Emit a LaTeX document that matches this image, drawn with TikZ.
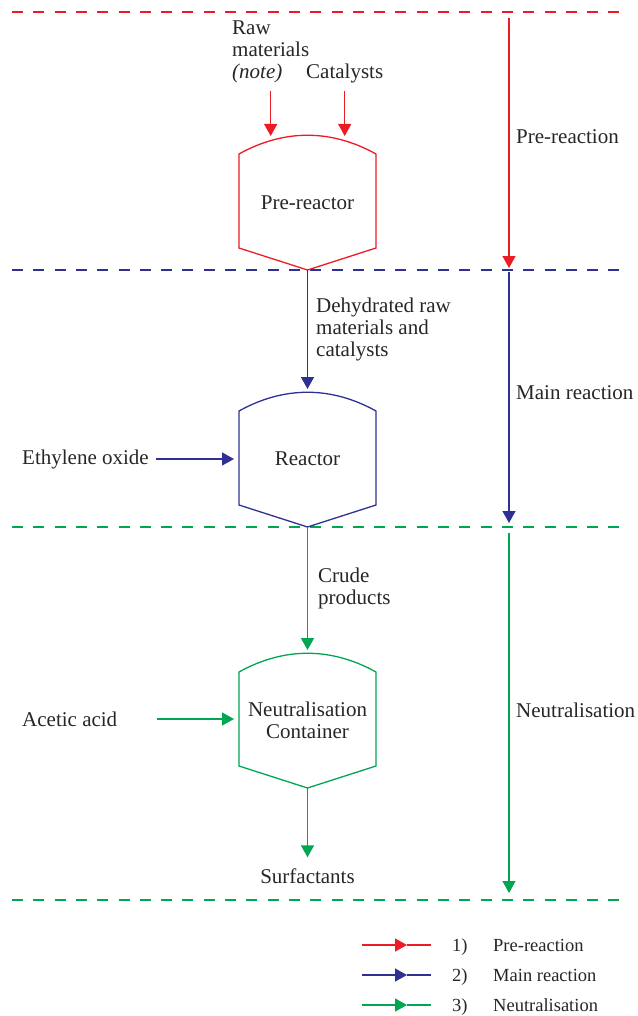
\documentclass[tikz,border=0pt]{standalone}
\usepackage{fontspec}
\setmainfont{Liberation Serif}
\usetikzlibrary{arrows.meta}

\definecolor{prered}{RGB}{237,28,36}
\definecolor{mainblue}{RGB}{46,49,146}
\definecolor{neutgreen}{RGB}{0,166,81}

\tikzset{
  flow/.style={line width=1.4pt,-{Triangle[length=12pt,width=13pt]}},
  vesselline/.style={line width=1.3pt,line join=miter},
  stage/.style={line width=1.4pt,dash pattern=on 11pt off 10.3pt},
  txt/.style={inner sep=0pt,font=\fontsize{21}{22}\selectfont,text=black!85},
  legtxt/.style={inner sep=0pt,anchor=base west,font=\fontsize{18.5}{20}\selectfont,text=black!85}
}

\newcommand{\drawvessel}[3]{%
  \draw[#3,vesselline] (239,#2+19) .. controls (284,#2-6) and (331,#2-6) .. (376,#2+19)
    -- (376,#2+113) -- (307.5,#2+135) -- (239,#2+113) -- cycle;
  \coordinate (#1-top) at (307.5,#2);
  \coordinate (#1-bot) at (307.5,#2+135);}

\begin{document}
\begin{tikzpicture}[x=1pt,y=-1pt]
  \useasboundingbox (0,0) rectangle (637,1016);

  % stage boundaries
  \draw[stage,prered] (12,12) -- (620,12);
  \draw[stage,mainblue] (12,270) -- (620,270);
  \draw[stage,neutgreen] (12,527) -- (620,527);
  \draw[stage,neutgreen] (12,900) -- (620,900);

  % vessels
  \drawvessel{pre}{135}{prered}
  \drawvessel{reac}{392}{mainblue}
  \drawvessel{neut}{653}{neutgreen}

  \node[txt] (prelbl) at (307.5,203) {Pre-reactor};
  \node[txt] (reaclbl) at (307.5,459) {Reactor};
  \node[txt,align=center] (neutlbl) at (307.5,720) {Neutralisation\\Container};

  % feeds
  \node[txt,align=left,anchor=west] (raw) at (232,51.5) {Raw\\materials\\\textit{(note)}};
  \node[txt,anchor=west] (cat) at (306,73) {Catalysts};
  \coordinate (rawin) at (270,136);
  \coordinate (catin) at (345,136);
  \draw[flow,prered,shorten <=8pt] (raw.south) -- (raw.south |- rawin);
  \draw[flow,prered,shorten <=8pt] (cat.south) -- (cat.south |- catin);

  \node[txt,anchor=west] (eo) at (22,459) {Ethylene oxide};
  \coordinate (eoin) at (234,459);
  \draw[flow,mainblue,shorten <=7pt] (eo.east) -- (eoin);

  \node[txt,anchor=west] (acid) at (22,719) {Acetic acid};
  \coordinate (acidin) at (234,719);
  \draw[flow,neutgreen] (157,719) -- (acidin);

  % main stream
  \draw[flow,mainblue,shorten >=3pt] (pre-bot) -- (reac-top);
  \node[txt,align=left,anchor=west] (dehyd) at (316,329) {Dehydrated raw\\materials and\\catalysts};
  \draw[flow,neutgreen,shorten >=3pt] (reac-bot) -- (neut-top);
  \node[txt,align=left,anchor=west] (crude) at (318,588) {Crude\\products};
  \node[txt] (surf) at (307.5,876) {Surfactants};
  \draw[flow,neutgreen,shorten >=11pt] (neut-bot) -- (surf.north);

  % stage arrows
  \draw[flow,prered] (509,18) -- (509,268);
  \draw[flow,mainblue] (509,272) -- (509,523);
  \draw[flow,neutgreen] (509,533) -- (509,893);
  \node[txt,anchor=west] (s1) at (516,137) {Pre-reaction};
  \node[txt,anchor=west] (s2) at (516,393) {Main reaction};
  \node[txt,anchor=west] (s3) at (516,710) {Neutralisation};

  % legend
  \foreach \c/\n/\t [count=\i] in {prered/1/Pre-reaction,mainblue/2/Main reaction,neutgreen/3/Neutralisation}{
    \coordinate (la\i) at (362,915+30*\i);
    \coordinate (lm\i) at (407,915+30*\i);
    \coordinate (lb\i) at (431,915+30*\i);
    \draw[flow,\c] (la\i) -- (lm\i);
    \draw[\c,line width=1.4pt] (lm\i) -- (lb\i);
    \node[legtxt] (ln\i) at (452,921+30*\i) {\n)};
    \node[legtxt] (lt\i) at (493,921+30*\i) {\t};
  }
\end{tikzpicture}
\end{document}
